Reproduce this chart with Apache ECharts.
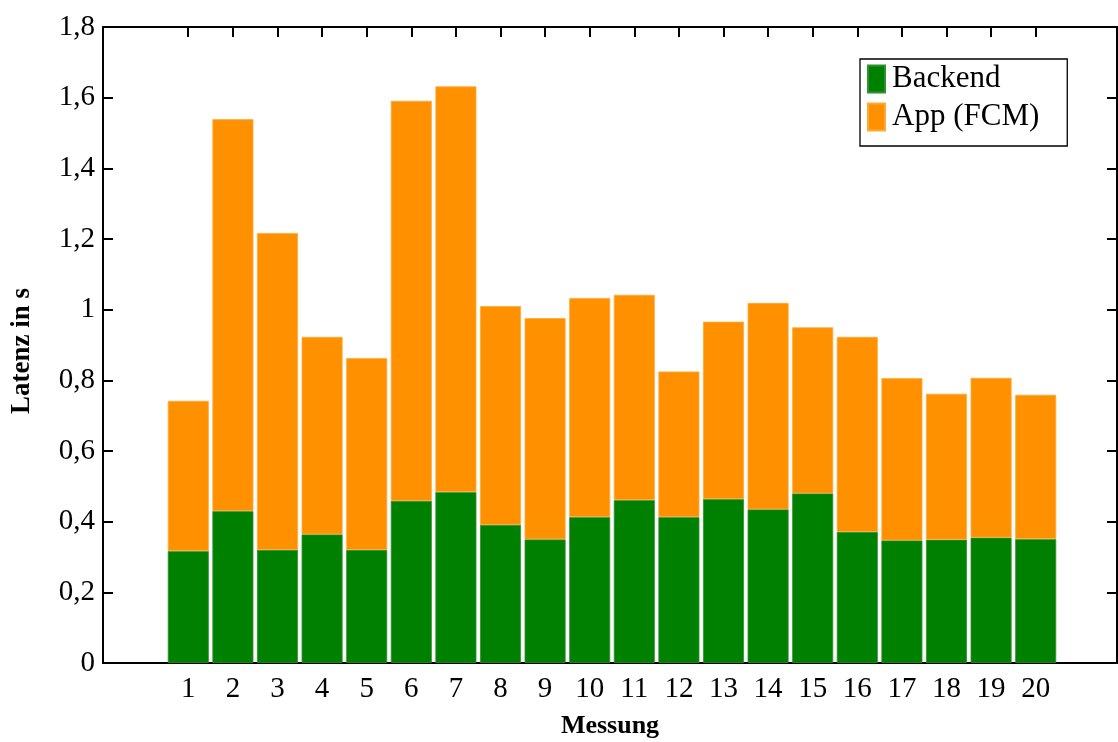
<!DOCTYPE html>
<html>
<head>
<meta charset="utf-8">
<script src="https://cdn.jsdelivr.net/npm/echarts@6/dist/echarts.min.js"></script>
<style>html,body{margin:0;padding:0;background:#fff}#c{width:1118px;height:742px}</style>
</head>
<body>
<div id="c"></div>
<script>
const measurements = ['1','2','3','4','5','6','7','8','9','10','11','12','13','14','15','16','17','18','19','20'];
const backend = [0.317,0.430,0.320,0.364,0.320,0.459,0.484,0.391,0.350,0.413,0.461,0.413,0.464,0.435,0.480,0.371,0.347,0.349,0.355,0.351];
const appFCM  = [0.425,1.109,0.897,0.559,0.543,1.132,1.148,0.619,0.626,0.620,0.581,0.412,0.502,0.584,0.470,0.552,0.459,0.413,0.452,0.408];
const tickPositions = [1,2,3,4,5,6,7,8,9,10,11,12,13,14,15,16,17,18,19,20];

const FONT = 'Liberation Serif';
const chart = echarts.init(document.getElementById('c'), null, {renderer:'canvas'});
const fmtY = v => String(Number(v.toFixed(1))).replace('.', ',');
const axisLine = {show:true, onZero:false, lineStyle:{color:'#000', width:2}};
const tick = {show:true, inside:true, length:10, lineStyle:{color:'#000', width:2}};

chart.setOption({
  animation:false,
  backgroundColor:'#fff',
  grid:[
    {left:103, right:1, top:27, bottom:79, containLabel:false, outerBoundsMode:'none'},
    {left:166, right:60, top:27, bottom:79, containLabel:false, outerBoundsMode:'none'}
  ],
  legend:{
    left:860, top:59, orient:'vertical',
    data:['Backend','App (FCM)'],
    icon:'rect', itemWidth:17, itemHeight:27, itemGap:6,
    borderColor:'#000', borderWidth:1.3, borderRadius:0,
    padding:[4,28,13,7],
    textStyle:{fontFamily:FONT, fontSize:31, lineHeight:32, color:'#000', padding:[0,0,0,2]}
  },
  xAxis:[
    {type:'value', gridIndex:0, position:'bottom', min:-0.91, max:21.82,
     axisLine, splitLine:{show:false}, axisTick:{show:false}, axisLabel:{show:false},
     name:'Messung', nameLocation:'middle', nameGap:50,
     nameTextStyle:{fontFamily:FONT, fontSize:26, fontWeight:'bold', color:'#000'}},
    {type:'value', gridIndex:0, position:'top', min:-0.91, max:21.82,
     axisLine, splitLine:{show:false},
     axisTick:Object.assign({customValues:tickPositions}, tick),
     axisLabel:{show:false}},
    {type:'category', gridIndex:1, position:'bottom', data:measurements, boundaryGap:true,
     axisLine:{show:false}, axisTick:{show:false}, splitLine:{show:false},
     axisLabel:{fontFamily:FONT, fontSize:29, color:'#000', margin:12, interval:0}}
  ],
  yAxis:[
    {type:'value', gridIndex:0, position:'left', min:0, max:1.8, interval:0.2,
     axisLine, splitLine:{show:false}, axisTick:tick,
     axisLabel:{formatter:fmtY, fontFamily:FONT, fontSize:29, color:'#000', margin:8},
     name:'Latenz in s', nameLocation:'middle', nameGap:67, nameRotate:90,
     nameTextStyle:{fontFamily:FONT, fontSize:27, fontWeight:'bold', color:'#000', padding:[0,12,0,0]}},
    {type:'value', gridIndex:0, position:'right', min:0, max:1.8, interval:0.2,
     axisLine, splitLine:{show:false}, axisTick:tick, axisLabel:{show:false}},
    {type:'value', gridIndex:1, min:0, max:1.8, interval:0.2, show:false}
  ],
  series:[
    {name:'Backend', type:'bar', stack:'total', xAxisIndex:2, yAxisIndex:2, barWidth:41, z:1,
     itemStyle:{color:'#008000', borderColor:'#2e922e', borderWidth:0.8},
     data: backend},
    {name:'App (FCM)', type:'bar', stack:'total', xAxisIndex:2, yAxisIndex:2, barWidth:41, z:1,
     itemStyle:{color:'#ff9100', borderColor:'#ffa93a', borderWidth:0.8},
     data: appFCM}
  ]
});
</script>
</body>
</html>
